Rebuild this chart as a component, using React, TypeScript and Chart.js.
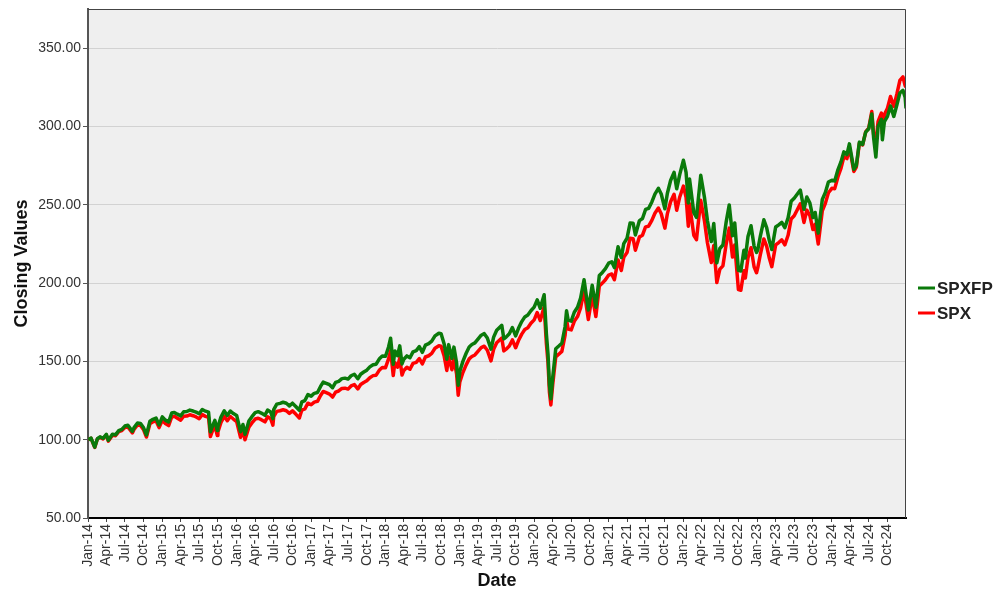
import { useEffect, useRef } from "react";
import Chart from "chart.js/auto";

const dates = [
  // 2014
  "2014-01-02", "2014-01-16", "2014-02-03", "2014-02-16", "2014-03-01", "2014-03-16", "2014-04-01", "2014-04-11",
  "2014-05-01", "2014-05-16", "2014-06-01", "2014-06-16", "2014-07-01", "2014-07-16", "2014-08-07", "2014-08-16",
  "2014-09-01", "2014-09-16", "2014-10-01", "2014-10-15", "2014-11-01", "2014-11-16", "2014-12-01", "2014-12-16",
  // 2015
  "2015-01-01", "2015-01-16", "2015-02-01", "2015-02-16", "2015-03-01", "2015-03-16", "2015-04-01", "2015-04-16",
  "2015-05-01", "2015-05-16", "2015-06-01", "2015-06-16", "2015-07-01", "2015-07-16", "2015-08-01", "2015-08-16",
  "2015-08-25", "2015-09-01", "2015-09-16", "2015-09-28", "2015-10-01", "2015-10-16", "2015-11-01", "2015-11-16",
  "2015-12-01", "2015-12-16",
  // 2016
  "2016-01-01", "2016-01-20", "2016-02-01", "2016-02-11", "2016-03-01", "2016-03-16", "2016-04-01", "2016-04-16",
  "2016-05-01", "2016-05-19", "2016-06-01", "2016-06-16", "2016-06-27", "2016-07-01", "2016-07-16", "2016-08-01",
  "2016-08-16", "2016-09-01", "2016-09-16", "2016-10-01", "2016-10-16", "2016-11-04", "2016-11-16", "2016-12-01",
  "2016-12-16",
  // 2017
  "2017-01-01", "2017-01-16", "2017-02-01", "2017-02-16", "2017-03-01", "2017-03-16", "2017-04-01", "2017-04-16",
  "2017-05-01", "2017-05-16", "2017-06-01", "2017-06-16", "2017-07-01", "2017-07-16", "2017-08-01", "2017-08-18",
  "2017-09-01", "2017-09-16", "2017-10-01", "2017-10-16", "2017-11-01", "2017-11-16", "2017-12-01", "2017-12-16",
  // 2018
  "2018-01-01", "2018-01-16", "2018-01-26", "2018-02-08", "2018-02-16", "2018-03-01", "2018-03-12", "2018-03-23",
  "2018-04-01", "2018-04-16", "2018-05-01", "2018-05-16", "2018-06-01", "2018-06-16", "2018-07-01", "2018-07-16",
  "2018-08-01", "2018-08-16", "2018-09-01", "2018-09-20", "2018-10-01", "2018-10-16", "2018-10-29", "2018-11-07",
  "2018-11-23", "2018-12-03", "2018-12-16", "2018-12-24",
  // 2019
  "2019-01-01", "2019-01-16", "2019-02-01", "2019-02-16", "2019-03-01", "2019-03-16", "2019-04-01", "2019-04-16",
  "2019-05-01", "2019-05-16", "2019-06-03", "2019-06-16", "2019-07-01", "2019-07-26", "2019-08-05", "2019-08-16",
  "2019-09-01", "2019-09-16", "2019-10-02", "2019-10-16", "2019-11-01", "2019-11-16", "2019-12-01", "2019-12-16",
  // 2020
  "2020-01-01", "2020-01-16", "2020-01-31", "2020-02-19", "2020-03-01", "2020-03-09", "2020-03-16", "2020-03-23",
  "2020-04-01", "2020-04-16", "2020-05-01", "2020-05-16", "2020-06-01", "2020-06-08", "2020-06-16", "2020-07-01",
  "2020-07-16", "2020-08-01", "2020-08-16", "2020-09-02", "2020-09-23", "2020-10-12", "2020-10-30", "2020-11-16",
  "2020-12-01", "2020-12-16",
  // 2021
  "2021-01-01", "2021-01-16", "2021-01-29", "2021-02-16", "2021-03-04", "2021-03-16", "2021-04-01", "2021-04-16",
  "2021-05-01", "2021-05-12", "2021-06-01", "2021-06-16", "2021-07-01", "2021-07-16", "2021-08-01", "2021-08-16",
  "2021-09-02", "2021-09-16", "2021-10-04", "2021-10-16", "2021-11-01", "2021-11-18", "2021-12-01", "2021-12-16",
  // 2022
  "2022-01-03", "2022-01-16", "2022-01-27", "2022-02-02", "2022-02-23", "2022-03-08", "2022-03-29", "2022-04-16",
  "2022-05-01", "2022-05-20", "2022-06-01", "2022-06-16", "2022-07-01", "2022-07-16", "2022-08-01", "2022-08-16",
  "2022-09-01", "2022-09-12", "2022-09-30", "2022-10-12", "2022-10-27", "2022-11-03", "2022-11-16", "2022-12-01",
  "2022-12-16", "2022-12-28",
  // 2023
  "2023-01-03", "2023-01-16", "2023-02-02", "2023-02-16", "2023-03-01", "2023-03-13", "2023-04-01", "2023-04-16",
  "2023-05-01", "2023-05-16", "2023-06-01", "2023-06-16", "2023-07-01", "2023-07-31", "2023-08-18", "2023-09-01",
  "2023-09-16", "2023-10-01", "2023-10-12", "2023-10-27", "2023-11-16", "2023-12-01", "2023-12-16",
  // 2024
  "2024-01-02", "2024-01-16", "2024-02-01", "2024-02-16", "2024-03-01", "2024-03-16", "2024-03-28", "2024-04-19",
  "2024-05-01", "2024-05-16", "2024-06-01", "2024-06-16", "2024-07-01", "2024-07-16", "2024-07-25", "2024-08-05",
  "2024-08-16", "2024-09-01", "2024-09-06", "2024-09-16", "2024-10-01", "2024-10-16", "2024-11-01", "2024-11-16",
  "2024-12-01", "2024-12-16", "2024-12-27", "2024-12-31",
];

const spxfpValues = [
  // 2014
  100.0, 101.0, 95.2, 100.6, 101.8, 100.9, 103.4, 99.6,
  103.5, 103.1, 105.8, 106.6, 108.7, 109.2, 105.3, 107.9,
  110.6, 110.4, 107.6, 103.0, 111.8, 113.0, 113.8, 109.4,
  // 2015
  114.6, 112.5, 111.3, 117.0, 117.4, 116.3, 115.2, 117.8,
  118.0, 118.9, 118.3, 117.6, 116.6, 119.3, 118.2, 117.6,
  105.0, 107.6, 112.3, 105.8, 108.2, 114.4, 118.4, 115.5,
  118.3, 116.7,
  // 2016
  115.5, 105.1, 109.7, 103.4, 111.9, 114.7, 117.3, 117.9,
  117.0, 115.6, 118.9, 117.7, 113.4, 119.2, 122.7, 123.2,
  123.9, 123.3, 121.6, 123.3, 121.4, 118.8, 124.1, 125.0,
  128.8,
  // 2017
  127.8, 129.6, 130.1, 134.0, 136.8, 136.0, 135.1, 133.2,
  136.6, 137.3, 139.0, 139.3, 138.7, 140.8, 141.8, 138.9,
  141.8, 143.2, 144.4, 146.5, 147.9, 148.2, 151.5, 153.4,
  // 2018
  153.3, 159.2, 164.8, 148.1, 156.7, 153.6, 159.9, 148.4,
  151.4, 153.5, 152.3, 156.1, 156.9, 159.4, 155.8, 160.4,
  161.3, 162.9, 166.3, 168.0, 167.7, 161.1, 151.4, 160.7,
  151.9, 159.1, 149.1, 134.8,
  // 2019
  143.7, 150.0, 155.2, 159.2, 160.8, 161.8, 164.4, 166.7,
  167.7, 164.9, 157.8, 165.5, 169.9, 173.0, 164.4, 165.5,
  167.6, 171.6, 166.3, 171.1, 175.4, 178.4, 179.6, 182.3,
  // 2020
  184.6, 189.3, 183.9, 192.6, 167.6, 154.6, 135.0, 126.1,
  139.6, 158.1, 159.8, 161.6, 172.3, 182.3, 176.3, 175.7,
  181.4, 184.6, 190.4, 202.1, 182.8, 198.6, 184.6, 204.8,
  206.8, 209.2,
  // 2021
  212.7, 213.6, 209.9, 223.2, 216.3, 225.2, 228.6, 238.3,
  238.2, 230.7, 239.9, 241.2, 247.0, 247.7, 251.8, 256.8,
  260.5, 256.9, 247.4, 257.2, 265.5, 270.7, 260.2, 269.4,
  // 2022
  278.4, 270.7, 251.2, 266.4, 245.0, 242.0, 268.8, 255.0,
  239.8, 226.5, 238.1, 212.9, 222.1, 224.3, 239.1, 249.9,
  230.2, 238.4, 208.1, 207.7, 221.0, 216.0, 229.8, 236.6,
  223.6, 219.6,
  // 2023
  221.2, 230.2, 240.4, 235.2, 227.0, 221.4, 235.8, 237.2,
  238.8, 235.4, 241.6, 252.2, 254.2, 259.4, 247.1, 255.0,
  251.1, 241.8, 245.1, 231.9, 253.4, 257.9, 264.5,
  // 2024
  265.7, 265.2, 272.5, 277.5, 283.8, 282.0, 288.9, 272.6,
  275.0, 290.0, 288.5, 296.4, 298.5, 308.0, 292.8, 280.5,
  300.0, 304.6, 291.5, 303.1, 306.5, 313.1, 306.4, 313.6,
  321.4, 323.1, 318.5, 311.5,
];

const spxValues = [
  // 2014
  100.0, 100.8, 95.1, 100.4, 101.5, 100.5, 103.0, 99.1,
  102.9, 102.5, 105.1, 105.8, 107.8, 108.2, 104.3, 106.8,
  109.4, 109.1, 106.3, 101.7, 110.2, 111.4, 112.1, 107.7,
  // 2015
  112.4, 110.3, 109.0, 114.5, 114.9, 113.7, 112.5, 115.0,
  115.1, 115.9, 115.3, 114.5, 113.4, 116.0, 114.9, 114.3,
  102.0, 104.5, 109.0, 102.7, 105.0, 111.0, 114.9, 112.1,
  114.8, 113.2,
  // 2016
  111.6, 101.5, 106.0, 99.9, 108.0, 110.7, 113.2, 113.7,
  112.8, 111.4, 114.6, 113.4, 109.3, 114.8, 118.1, 118.5,
  119.1, 118.5, 116.8, 118.4, 116.5, 113.9, 118.9, 119.7,
  123.3,
  // 2017
  122.3, 124.0, 124.5, 128.2, 130.8, 130.0, 129.1, 127.2,
  130.4, 131.1, 132.7, 132.9, 132.3, 134.3, 135.2, 132.4,
  135.2, 136.5, 137.6, 139.6, 140.9, 141.2, 144.3, 146.1,
  // 2018
  146.0, 151.6, 156.9, 141.0, 149.2, 146.3, 152.3, 141.3,
  144.2, 146.2, 145.0, 148.7, 149.4, 151.8, 148.4, 152.8,
  153.6, 155.1, 158.4, 160.0, 159.7, 153.4, 144.2, 153.0,
  144.7, 151.5, 142.0, 128.4,
  // 2019
  136.9, 142.9, 147.8, 151.6, 153.1, 154.1, 156.6, 158.8,
  159.7, 157.1, 150.3, 157.7, 161.9, 164.9, 156.7, 157.8,
  159.8, 163.7, 158.7, 163.3, 167.4, 170.4, 171.5, 174.3,
  // 2020
  176.5, 181.2, 176.1, 184.9, 161.3, 149.0, 130.3, 122.2,
  135.0, 152.9, 154.6, 156.4, 166.8, 176.5, 170.7, 170.1,
  175.6, 178.6, 184.2, 195.5, 176.8, 192.1, 178.6, 198.1,
  200.0, 202.1,
  // 2021
  205.1, 205.8, 202.1, 214.7, 208.0, 216.4, 219.5, 228.6,
  228.3, 221.0, 229.5, 230.6, 235.9, 236.3, 240.0, 244.6,
  247.9, 244.3, 235.1, 244.2, 251.9, 256.7, 246.5, 255.0,
  // 2022
  261.9, 254.7, 236.3, 250.6, 230.5, 227.7, 252.9, 239.9,
  225.6, 213.1, 224.0, 200.3, 208.9, 211.0, 224.9, 235.1,
  216.6, 224.3, 195.8, 195.4, 207.9, 203.2, 216.2, 222.6,
  210.4, 206.6,
  // 2023
  209.7, 218.4, 228.2, 223.4, 215.8, 210.5, 224.4, 225.9,
  227.6, 224.4, 230.5, 240.9, 243.0, 250.6, 238.7, 246.6,
  243.0, 234.2, 237.5, 224.9, 246.2, 250.9, 257.7,
  // 2024
  260.5, 260.3, 267.9, 273.4, 280.6, 279.5, 286.9, 271.3,
  274.1, 289.3, 288.2, 296.6, 299.0, 309.5, 294.9, 289.0,
  303.3, 308.5, 295.4, 307.6, 311.7, 319.1, 312.8, 320.6,
  329.4, 331.7, 326.0, 325.0,
];

const yTickValues = [50, 100, 150, 200, 250, 300, 350];
const tickYears = [14, 15, 16, 17, 18, 19, 20, 21, 22, 23, 24];
const tickMonths = ["Jan", "Apr", "Jul", "Oct"];

const FONT = "'Liberation Sans', Arial, Helvetica, sans-serif";
const DAY_MS = 86400000;
const START = Date.UTC(2014, 0, 1);

function dayOf(s: string) {
  const [y, m, d] = s.split("-").map(Number);
  return (Date.UTC(y, m - 1, d) - START) / DAY_MS;
}

const xTicks: { value: number; label: string }[] = [];
tickYears.forEach((yy) => {
  tickMonths.forEach((mon, q) => {
    xTicks.push({ value: (Date.UTC(2000 + yy, q * 3, 1) - START) / DAY_MS, label: `${mon}-${yy}` });
  });
});

// plot background + top/right frame
const plotFrame = {
  id: "plotFrame",
  beforeDraw(chart: any) {
    const { ctx, chartArea } = chart;
    const { left, top, right, bottom } = chartArea;
    ctx.save();
    ctx.fillStyle = "#efefef";
    ctx.fillRect(left, top, right - left, bottom - top);
    ctx.restore();
  },
  afterDraw(chart: any) {
    const { ctx, chartArea } = chart;
    const { left, top, right, bottom } = chartArea;
    ctx.save();
    ctx.strokeStyle = "#444";
    ctx.lineWidth = 1;
    ctx.beginPath();
    ctx.moveTo(left, top + 0.5);
    ctx.lineTo(right - 0.5, top + 0.5);
    ctx.lineTo(right - 0.5, bottom);
    ctx.stroke();
    ctx.restore();
  },
};

// legend at the right side, like the original
const sideLegend = {
  id: "sideLegend",
  afterDraw(chart: any) {
    const { ctx, chartArea } = chart;
    const x0 = chartArea.right + 12;
    const mid = chart.height / 2;
    chart.data.datasets.forEach((ds: any, i: number) => {
      const y = mid - 12 + i * 25;
      ctx.save();
      ctx.strokeStyle = ds.borderColor;
      ctx.lineWidth = 3;
      ctx.beginPath();
      ctx.moveTo(x0, y);
      ctx.lineTo(x0 + 17, y);
      ctx.stroke();
      ctx.fillStyle = "#222";
      ctx.font = `bold 17px ${FONT}`;
      ctx.textBaseline = "middle";
      ctx.fillText(ds.label, x0 + 19, y + 1);
      ctx.restore();
    });
  },
};

function ClosingChart() {
  const canvasRef = useRef<HTMLCanvasElement>(null);
  const chartRef = useRef<Chart | null>(null);

  useEffect(() => {
    document.body.style.margin = "0";
    if (!canvasRef.current) return;
    if (chartRef.current) chartRef.current.destroy();

    const xs = dates.map(dayOf);

    chartRef.current = new Chart(canvasRef.current, {
      type: "line",
      data: {
        datasets: [
          {
            label: "SPXFP",
            data: xs.map((x, i) => ({ x, y: spxfpValues[i] })),
            borderColor: "#0a7a0a",
            backgroundColor: "#0a7a0a",
            borderWidth: 3.5,
            borderJoinStyle: "round",
            pointRadius: 0,
            tension: 0,
          },
          {
            label: "SPX",
            data: xs.map((x, i) => ({ x, y: spxValues[i] })),
            borderColor: "#ff0000",
            backgroundColor: "#ff0000",
            borderWidth: 3.5,
            borderJoinStyle: "round",
            pointRadius: 0,
            tension: 0,
          },
        ],
      },
      options: {
        responsive: false,
        animation: false,
        layout: { padding: { top: 5, right: 94, bottom: 0, left: 0 } },
        scales: {
          x: {
            type: "linear",
            min: 0,
            max: dayOf("2024-12-31"),
            afterBuildTicks: (scale: any) => {
              scale.ticks = xTicks.map((t) => ({ value: t.value }));
            },
            afterFit: (scale: any) => {
              scale.height = 82;
            },
            ticks: {
              autoSkip: false,
              minRotation: 90,
              maxRotation: 90,
              padding: 2,
              color: "#333",
              font: { family: FONT, size: 14 },
              callback: (v: any) => {
                const t = xTicks.find((k) => Math.abs(k.value - Number(v)) < 0.5);
                return t ? t.label : "";
              },
            },
            grid: { drawOnChartArea: false, tickLength: 4, tickColor: "#444" },
            border: { color: "#000", width: 2 },
            title: {
              display: true,
              text: "Date",
              color: "#111",
              font: { family: FONT, size: 18, weight: "bold" },
              padding: { top: 0, bottom: 8 },
            },
          },
          y: {
            min: 50,
            max: 375,
            afterBuildTicks: (scale: any) => {
              scale.ticks = yTickValues.map((v) => ({ value: v }));
            },
            afterFit: (scale: any) => {
              scale.width = 88;
            },
            ticks: {
              padding: 2,
              color: "#333",
              font: { family: FONT, size: 14, lineHeight: 1 },
              callback: (v: any) => Number(v).toFixed(2),
            },
            grid: { color: "#d2d2d2", tickColor: "#555", tickLength: 5 },
            border: { color: "#555", width: 2 },
            title: {
              display: true,
              text: "Closing Values",
              color: "#111",
              font: { family: FONT, size: 18, weight: "bold" },
              padding: { top: 11, bottom: 0 },
            },
          },
        },
        plugins: {
          legend: { display: false },
          tooltip: { enabled: false },
        },
      },
      plugins: [plotFrame, sideLegend],
    });

    return () => {
      if (chartRef.current) {
        chartRef.current.destroy();
        chartRef.current = null;
      }
    };
  }, []);

  return <canvas ref={canvasRef} width={1000} height={600} />;
}

export default function App() {
  return (
    <div style={{ width: 1000, height: 600, background: "#fff" }}>
      <ClosingChart />
    </div>
  );
}
